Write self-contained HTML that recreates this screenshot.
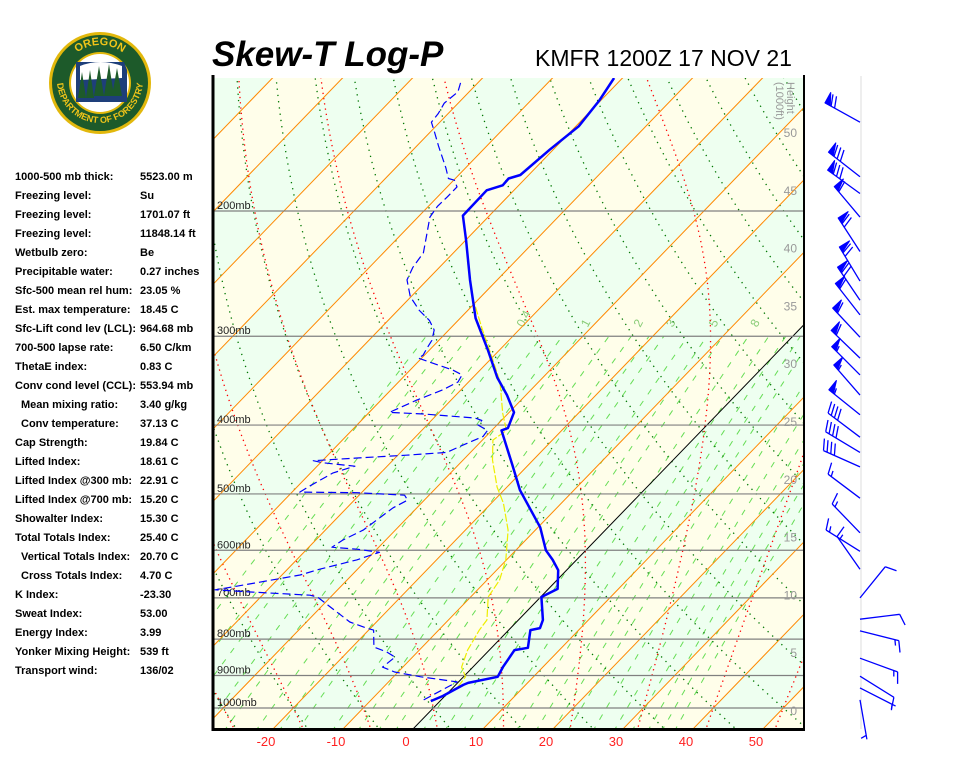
<!DOCTYPE html>
<html><head><meta charset="utf-8"><title>Skew-T Log-P KMFR</title>
<style>
html,body{margin:0;padding:0;background:#fff;}
body{width:960px;height:768px;overflow:hidden;font-family:"Liberation Sans",sans-serif;}
svg{display:block;}
.lbl{font:bold 11px "Liberation Sans",sans-serif;fill:#000;}
</style></head>
<body>
<svg id="chart" width="960" height="768" viewBox="0 0 960 768" xmlns="http://www.w3.org/2000/svg">
  <defs>
    <clipPath id="plotClip"><rect x="214" y="78" width="590" height="650"/></clipPath>
    <path id="logoTop" d="M 62 83 A 38 38 0 0 1 138 83"/>
    <path id="logoBot" d="M 57 80 A 43 43 0 0 0 143 80"/>
  </defs>
  <g>
    <circle cx="100" cy="83" r="51" fill="#e2b80c"/>
    <circle cx="100" cy="83" r="48" fill="#1d5a2a"/>
    <circle cx="100" cy="83" r="31" fill="#e2b80c"/>
    <circle cx="100" cy="83" r="29" fill="#fff"/>
    <path d="M76 62 L124 62 L127 70 L127 102 L76 102 Z" fill="#1e3f7a"/>
    <path d="M80 66 Q100 58 122 66 L122 78 L80 80 Z" fill="#fff"/>
    <path d="M78 98 L82 72 L86 98 Z M86 98 L90 70 L94 98 Z M94 96 L99 66 L104 96 Z M104 96 L109 64 L114 96 Z M112 96 L117 68 L122 96 Z" fill="#1d5a2a"/>
    <text font-family="Liberation Sans, sans-serif" font-weight="bold" font-size="11" fill="#f0c419"><textPath href="#logoTop" startOffset="50%" text-anchor="middle">OREGON</textPath></text>
    <text font-family="Liberation Sans, sans-serif" font-weight="bold" font-size="9" fill="#f0c419"><textPath href="#logoBot" startOffset="50%" text-anchor="middle">DEPARTMENT OF FORESTRY</textPath></text>
  </g>
  <text x="212" y="66" font-family="Liberation Sans, sans-serif" font-size="35" font-weight="bold" font-style="italic" fill="#000">Skew-T Log-P</text>
  <text x="535" y="66" font-family="Liberation Sans, sans-serif" font-size="23" fill="#000">KMFR 1200Z 17 NOV 21</text>
  <g id="indices"></g>
  <g id="plot"></g>
  <g id="barbs"></g>
</svg>
<script>
// ---- data ----
const indexLabels = ["1000-500 mb thick:","Freezing level:","Freezing level:","Freezing level:","Wetbulb zero:","Precipitable water:","Sfc-500 mean rel hum:","Est. max temperature:","Sfc-Lift cond lev (LCL):","700-500 lapse rate:","ThetaE index:","Conv cond level (CCL):"," Mean mixing ratio:"," Conv temperature:","Cap Strength:","Lifted Index:","Lifted Index @300 mb:","Lifted Index @700 mb:","Showalter Index:","Total Totals Index:"," Vertical Totals Index:"," Cross Totals Index:","K Index:","Sweat Index:","Energy Index:","Yonker Mixing Height:","Transport wind:"];
const indexValues = ["5523.00 m","Su","1701.07 ft","11848.14 ft","Be","0.27 inches","23.05 %","18.45 C","964.68 mb","6.50 C/km","0.83 C","553.94 mb","3.40 g/kg","37.13 C","19.84 C","18.61 C","22.91 C","15.20 C","15.30 C","25.40 C","20.70 C","4.70 C","-23.30","53.00","3.99","539 ft","136/02"];

const pressureLevels = [200,300,400,500,600,700,800,900,1000];
const tempTicks = [-20,-10,0,10,20,30,40,50];
const heightTicks = [0,5,10,15,20,25,30,35,40,45,50];
const isotherms = [-120,-110,-100,-90,-80,-70,-60,-50,-40,-30,-20,-10,0,10,20,30,40,50,60];
const dryAdiabatsC = [-60,-50,-40,-30,-20,-10,0,10,20,30,40,50,60,70,80,90,100,110,120,130,140,150,160,170,180];
const moistAdiabatsC = [-40,-30,-20,-10,0,10,20,30,40,50];
const mixRatios = [0.1,0.15,0.2,0.3,0.4,0.6,0.8,1,1.5,2,2.5,3,4,5,6,8,10,12,14,16,20,24,28,32,36,40];
const mixLabels = [0.4,1,2,3,5,8];

const tempP = [978,962,928,922,904,876,829,823,777,772,752,698,680,640,619,600,557,494,455,407,404,384,363,343,314,283,250,220,203,187,184,180,178,164,152,140,130];
const tempT = [-1.3,-0.3,1.1,1.5,4.9,4.3,3.6,5.2,3.1,4.2,3.5,0.1,1.3,-1.2,-3.4,-5.7,-9.7,-17.7,-22.3,-28.6,-28.0,-29.3,-32.7,-36.5,-41.6,-47.8,-53.9,-59.9,-63.8,-63.9,-62.3,-62.4,-61.2,-60.5,-59.6,-60.2,-61.2];

const dewP = [974,919,904,890,876,848,834,821,777,772,757,698,694,687,682,674,650,638,619,604,598,594,580,562,523,510,502,498,497,487,467,457,452,449,445,441,437,427,415,407,400,394,391,386,384,369,357,348,340,335,322,319,312,304,294,285,276,264,250,240,229,218,204,197,191,185,181,180,174,162,154,150,146,141,136,131];
const dewT = [-2.5,-0.2,-6.1,-10.5,-12.9,-12.5,-14.4,-16.9,-19.3,-20.6,-23.8,-31.9,-33.2,-41.8,-47.5,-44.9,-37.4,-35.4,-31.4,-29.2,-32.8,-36.7,-36.1,-34.6,-33.4,-32.4,-33.5,-40.6,-48.9,-48.3,-46.8,-44.6,-49.6,-51.3,-45.4,-38.8,-33.4,-32.1,-30.4,-30.6,-32.7,-32.8,-34.1,-42.0,-47.1,-44.9,-42.6,-41.5,-41.9,-43.8,-50.5,-50.2,-50.6,-51.0,-52.1,-54.1,-56.9,-60.1,-62.9,-63.8,-64.3,-66.0,-68.3,-68.7,-68.6,-68.6,-69.9,-71.0,-72.8,-76.9,-79.7,-81.2,-81.4,-82.0,-81.6,-82.7];

const wetP = [934,904,876,829,777,752,698,661,619,562,515,489,448,420,407,385,348,321,294,267,235];
const wetT = [0.6,0.3,-1.6,-3.1,-4.2,-4.5,-7.5,-8.2,-10.1,-13.9,-18.3,-21.4,-25.8,-28.5,-27.9,-30.8,-35.5,-40.1,-45.2,-50.6,-56.9];

const barbP = [150,179,189,204,228,251,267,280,301,322,340,363,387,416,437,458,507,567,602,638,700,750,779,851,902,937,974];
const barbDir = [299,308,306,320,327,329,326,322,317,314,315,319,309,307,301,294,307,316,302,325,39,83,104,110,122,117,170];
const barbSpd = [70,80,80,60,70,70,70,60,60,60,55,55,55,40,40,40,15,15,15,15,10,10,15,15,10,5,5];

// ---- axes ----
const NS = "http://www.w3.org/2000/svg";
const X0 = 413, PXT = 7, SK = 0.967, YB = 729, Y1000 = 708, KP = 308.8;
const L = 214, R = 804, TOP = 78, BOT = 728;
function yP(p){ return Y1000 - KP*Math.log(1000/p); }
function xT(T,p){ return X0 + PXT*T + SK*(YB - yP(p)); }
function pY(y){ return 1000*Math.exp(-(Y1000-y)/KP); }
function yH(h){ return 710 - 11.56*h; }
function el(tag, attrs, parent){ const e=document.createElementNS(NS,tag); for(const k in attrs) e.setAttribute(k,attrs[k]); parent.appendChild(e); return e; }
const pTop = pY(TOP-2), pBot = pY(BOT+2);

// ---- indices panel ----
const ind = document.getElementById('indices');
for(let i=0;i<indexLabels.length;i++){
  const y = 180 + i*19.0;
  const lab = indexLabels[i];
  const t = el('text',{x: lab.startsWith(' ')?21:15, y:y, class:'lbl'}, ind);
  
  
  t.textContent = lab.trim();
  const v = el('text',{x:140, y:y, class:'lbl'}, ind);
  
  
  v.textContent = indexValues[i];
}

// ---- plot ----
const plot = document.getElementById('plot');
el('rect',{x:L,y:TOP,width:R-L,height:BOT-TOP,fill:'#eefff0'},plot);
const cg = el('g',{'clip-path':'url(#plotClip)'},plot);
for(const T of isotherms){
  const idx = Math.floor(T/10);
  if(Math.abs(idx)%2===1){
    const pts = [[xT(T,pBot),yP(pBot)],[xT(T+10,pBot),yP(pBot)],[xT(T+10,pTop),yP(pTop)],[xT(T,pTop),yP(pTop)]];
    const b = el('polygon',{points:pts.map(q=>q.join(',')).join(' '),fill:'#fffeea'},cg);
    
    
  }
}
function lineFrom(ps, fn, attrs, name){
  const d = ps.map((p,i)=>(i?'L':'M')+xT(fn(p),p).toFixed(1)+' '+yP(p).toFixed(1)).join(' ');
  const e = el('path', Object.assign({d:d,fill:'none'},attrs), cg);
  
  
  return e;
}
const pSteps = []; for(let p=1080;p>=120;p-=10) pSteps.push(p);
function tdFromW(w,p){ const e=w*p/(622+w); const a=Math.log(e/6.112); return 243.5*a/(17.67-a); }
const pMix = pSteps.filter(p=>p>=300);
for(const w of mixRatios){
  lineFrom(pMix, p=>tdFromW(w,p), {stroke:'#66dd55','stroke-width':1,'stroke-dasharray':'6 8'}, 'mixing-ratio-line');
}
for(const w of mixLabels){
  const p = 292, x = xT(tdFromW(w,p),p)+3, y = yP(p);
  const t = el('text',{x:x,y:y,transform:`rotate(-62 ${x} ${y})`,'font-size':12,fill:'#88cc77','font-family':'Liberation Sans, sans-serif'},cg);
  
  
  t.textContent = String(w);
}
// dry adiabats (green dotted)
for(const c of dryAdiabatsC){
  const th = c + 273.15;
  lineFrom(pSteps, p=>th*Math.pow(p/1000,0.2857)-273.15, {stroke:'#007700','stroke-width':1.3,'stroke-dasharray':'1.3 5'}, 'dry-adiabat');
}
// moist adiabats (red dotted)
function moist(T0){
  const res = {}; let T = T0+273.15, p = 1000;
  function rate(T,p){ const tc=T-273.15; const es=6.112*Math.exp(17.67*tc/(tc+243.5)); const rs=0.622*es/(p-es); return (287*T+2.5e6*rs)/(p*(1004+2.5e6*2.5e6*rs*0.622/(287*T*T))); }
  res[1000]=T0;
  for(p=1000;p>120;p-=2){ T -= rate(T,p)*2; if((p-2)%10===0) res[p-2]=T-273.15; }
  T = T0+273.15;
  for(p=1000;p<1080;p+=2){ T += rate(T,p)*2; if((p+2)%10===0) res[p+2]=T-273.15; }
  return res;
}
for(const c of moistAdiabatsC){
  const m = moist(c);
  lineFrom(pSteps, p=>m[p], {stroke:'#ff0000','stroke-width':1.3,'stroke-dasharray':'1.3 4'}, 'moist-adiabat');
}
for(const T of isotherms){
  const e = el('line',{x1:xT(T,pBot),y1:yP(pBot),x2:xT(T,pTop),y2:yP(pTop),stroke:T===0?'#000':'#ff8800','stroke-width':1},cg);
  
  
}
for(const p of pressureLevels){
  const y = yP(p);
  const e = el('line',{x1:L,y1:y,x2:R,y2:y,stroke:'#808080','stroke-width':1.2},cg);
  
  
  const t = el('text',{x:217,y:y-2,'font-size':11,fill:'#222','font-family':'Liberation Sans, sans-serif'},cg);
  
  
  t.textContent = p+'mb';
}
for(const h of heightTicks){
  const t = el('text',{x:797,y:yH(h)+5,'font-size':12,fill:'#999','text-anchor':'end','font-family':'Liberation Sans, sans-serif'},cg);
  
  
  t.textContent = String(h);
}
const ht = el('text',{x:787,y:82,'font-size':11,fill:'#999',transform:'rotate(90 787 82)','font-family':'Liberation Sans, sans-serif'},cg);


ht.textContent = 'Height';
const ht2 = el('text',{x:776,y:82,'font-size':11,fill:'#999',transform:'rotate(90 776 82)','font-family':'Liberation Sans, sans-serif'},cg);


ht2.textContent = '(1000ft)';
function sounding(P,T,attrs,name){
  const d = P.map((p,i)=>(i?'L':'M')+xT(T[i],p).toFixed(1)+' '+yP(p).toFixed(1)).join(' ');
  const e = el('path',Object.assign({d:d,fill:'none','stroke-linejoin':'round'},attrs),cg);
  
  
}
sounding(wetP,wetT,{stroke:'#eeee00','stroke-width':1.2,'stroke-dasharray':'8 2'},'wetbulb-profile');
sounding(dewP,dewT,{stroke:'#0000ff','stroke-width':1.2,'stroke-dasharray':'8 4'},'dewpoint-profile');
sounding(tempP,tempT,{stroke:'#0000ff','stroke-width':2.5},'temperature-profile');
el('line',{x1:R,y1:TOP-3,x2:R,y2:BOT,stroke:'#000','stroke-width':2},plot);
el('line',{x1:L-1,y1:TOP-3,x2:L-1,y2:BOT+1.5,stroke:'#000','stroke-width':3},plot);
const bx = el('line',{x1:L-2.5,y1:BOT+1.5,x2:R+1,y2:BOT+1.5,stroke:'#000','stroke-width':3},plot);


for(const T of tempTicks){
  const t = el('text',{x:X0+PXT*T-7,y:746,'font-size':13,fill:'#ff2020','text-anchor':'middle','font-family':'Liberation Sans, sans-serif'},plot);
  
  
  t.textContent = String(T);
}

// ---- wind barbs ----
const bg = document.getElementById('barbs');
el('line',{x1:861,y1:76,x2:861,y2:729,stroke:'#eeeeee','stroke-width':2},bg);
const BX = 860, SL = 40;
for(let i=0;i<barbP.length;i++){
  const y0 = yP(barbP[i]); const a = barbDir[i]*Math.PI/180;
  const ux = Math.sin(a), uy = -Math.cos(a);
  const tx = BX+ux*SL, ty = y0+uy*SL;
  const fx = 0.94*(-uy)+0.34*ux, fy = 0.94*ux+0.34*uy;
  let d = `M${BX} ${y0.toFixed(1)} L${tx.toFixed(1)} ${ty.toFixed(1)}`;
  let s = barbSpd[i], pos = 0, flags = '';
  while(s>=50){ const bx1=tx-ux*pos, by1=ty-uy*pos, bx2=tx-ux*(pos+6), by2=ty-uy*(pos+6);
    flags += `M${bx1.toFixed(1)} ${by1.toFixed(1)} L${(bx1+(-uy)*12).toFixed(1)} ${(by1+ux*12).toFixed(1)} L${bx2.toFixed(1)} ${by2.toFixed(1)} Z `; pos+=7; s-=50; }
  while(s>=10){ const bx1=tx-ux*pos, by1=ty-uy*pos; d += ` M${bx1.toFixed(1)} ${by1.toFixed(1)} l${(fx*12).toFixed(1)} ${(fy*12).toFixed(1)}`; pos+=4; s-=10; }
  if(s>=5){ if(pos===0) pos=4; const bx1=tx-ux*pos, by1=ty-uy*pos; d += ` M${bx1.toFixed(1)} ${by1.toFixed(1)} l${(fx*6).toFixed(1)} ${(fy*6).toFixed(1)}`; }
  const g = el('g',{},bg);
  
  
  el('path',{d:d,stroke:'#0000ff','stroke-width':1.3,fill:'none'},g);
  if(flags) el('path',{d:flags,fill:'#0000ff',stroke:'#0000ff','stroke-width':1},g);
}
</script>
</body></html>
